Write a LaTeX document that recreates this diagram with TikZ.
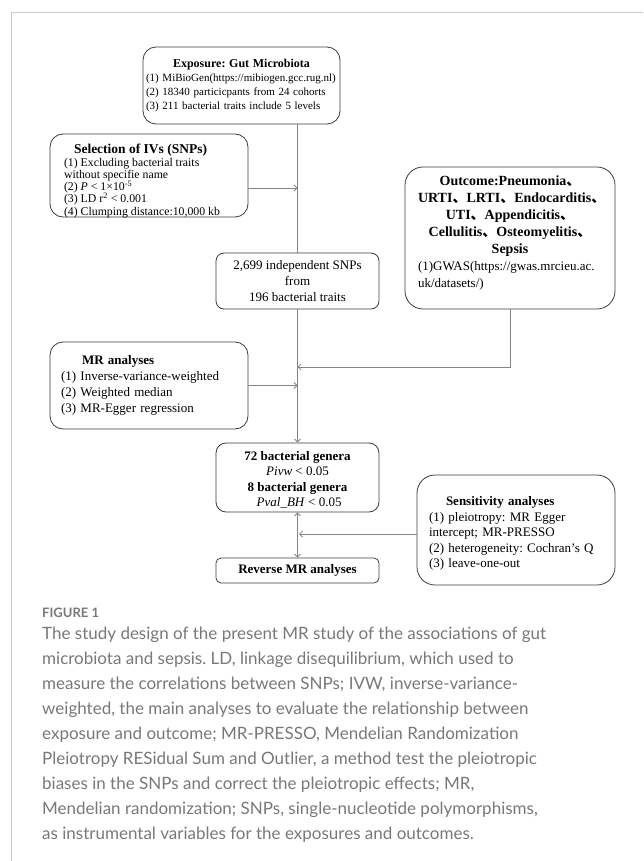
\documentclass[tikz,border=0pt]{standalone}
\usepackage{fontspec}
\setmainfont{Liberation Serif}
\newfontfamily\cjk{Noto Sans CJK SC}
\newfontfamily\capfont{Lato}
\usetikzlibrary{arrows.meta,positioning}
\definecolor{boxgray}{HTML}{3C3C3C}
\definecolor{linegray}{HTML}{858585}
\definecolor{framegray}{HTML}{CBCBCB}
\definecolor{capgray}{HTML}{787878}
\tikzset{->,>={Straight Barb[length=3pt,width=6pt]}}
\tikzset{box/.style={draw=boxgray, line width=0.8pt, rounded corners=13pt,
    inner ysep=0pt, align=left}}
\tikzset{flow/.style={draw=linegray, line width=0.8pt}}
\newcommand{\cjkcomma}{{\cjk 、}}
\newcommand{\supsm}[1]{\smash{\textsuperscript{#1}}}
\frenchspacing

\begin{document}
\begin{tikzpicture}[x=1pt, y=-1pt]
  \useasboundingbox (0,0) rectangle (643,861);
    %%%% Frame
    \draw[-, framegray, line width=1pt] (11,861) -- (11,13) -- (643,13);

    %%%% Boxes
    \node[box, minimum width=197pt, minimum height=77pt, inner xsep=3pt, text width=191pt,
      font=\fontsize{11}{14}\selectfont] (expo) at (241.5,85.5)
      {{\centering\fontsize{12}{14.5}\selectfont\bfseries Exposure: Gut Microbiota\par}
       (1)~MiBioGen(https://mibiogen.gcc.rug.nl)\\
       (2) 18340 particicpants from 24 cohorts\\
       (3) 211 bacterial traits include 5 levels};
    \node[box, minimum width=198pt, minimum height=83pt, inner xsep=14pt,
      font=\fontsize{11.8}{12}\selectfont] (sel) at (149,175.5)
      {\parbox[c][83pt][t]{170pt}{\raggedright\vspace*{8pt}%
       \rule{0pt}{12pt}\hspace*{10pt}{\fontsize{13.5}{15}\selectfont\bfseries Selection of IVs (SNPs)}\\[1pt]
       (1) Excluding bacterial traits\\
       without specifie name\\
       (2) \textit{P} < 1×10\supsm{-5}\\
       (3) LD r\supsm{2} < 0.001\\
       (4) Clumping distance:10,000 kb}};
    \node[box, rounded corners=8pt, minimum width=163pt, minimum height=56pt, align=center,
      font=\fontsize{13}{16}\selectfont] (snp) at (297.5,281)
      {2,699 independent SNPs\\ from\\ 196 bacterial traits};
    \node[box, rounded corners=18pt, minimum width=210pt, minimum height=142pt, inner xsep=13pt,
      text width=184pt, font=\fontsize{13}{17}\selectfont] (out) at (510,238)
      {{\centering\fontsize{14}{17}\selectfont\bfseries Outcome:Pneumonia\cjkcomma\\
        URTI\cjkcomma LRTI\cjkcomma Endocarditis\cjkcomma\\
        UTI\cjkcomma Appendicitis\cjkcomma\\
        Cellulitis\cjkcomma Osteomyelitis\cjkcomma\\
        Sepsis\par}
       (1)GWAS(https://gwas.mrcieu.ac.\\
       uk/datasets/)\rule[-13pt]{0pt}{13pt}};
    \node[box, minimum width=198pt, minimum height=87pt, inner xsep=11pt, text width=176pt,
      font=\fontsize{13}{16}\selectfont] (mr) at (149,385.5)
      {\hspace*{21pt}\textbf{MR analyses}\\
       (1) Inverse-variance-weighted\\
       (2) Weighted median\\
       (3) MR-Egger regression};
    \node[box, rounded corners=10pt, minimum width=163pt, minimum height=69pt, align=center,
      font=\fontsize{13}{15.5}\selectfont] (gen) at (297.5,477.5)
      {\rule{0pt}{14pt}\textbf{72 bacterial genera}\\ \textit{Pivw} < 0.05\\
       \textbf{8 bacterial genera}\\ \ \textit{Pval\_BH} < 0.05};
    \node[box, rounded corners=5pt, minimum width=163pt, minimum height=25pt, align=center,
      font=\fontsize{13}{16}\selectfont] (rev) at (297.5,570.5)
      {\textbf{Reverse MR analyses}};
    \node[box, rounded corners=18pt, minimum width=198pt, minimum height=110pt, inner xsep=12pt,
      text width=174pt, font=\fontsize{13}{15.5}\selectfont] (sens) at (516,530)
      {\rule{0pt}{16.6pt}\hspace*{17pt}\textbf{Sensitivity analyses}\\
       (1) pleiotropy: MR Egger\\
       intercept; MR-PRESSO\\
       (2) heterogeneity: Cochran’s Q\\
       (3) leave-one-out};

    %%%% Junctions on the main line
    \coordinate (j1) at (297.5,188);
    \coordinate (j2) at (297.5,367);
    \coordinate (j3) at (299,534);

    %%%% Connectors
    \draw [-][flow] (expo.south -| snp.north) to (snp.north);
    \draw [->][flow] (sel.east |- j1) to (j1);
    \draw [->][flow] (snp.south) to (gen.north);
    \draw [->][flow] (out.south) |- (j2);
    \draw [->][flow] (mr.east) to (mr.east -| snp.south);
    \draw [<->][flow] (gen.south) to (rev.north);
    \draw [->][flow] (sens.west |- j3) to (j3);

    %%%% Caption
    \node[anchor=west, inner sep=0pt, text=capgray, font=\capfont\bfseries\fontsize{13}{15}\selectfont]
      (fig) at (42,613) {FIGURE 1};
    \node[anchor=north west, inner sep=0pt, text=capgray, align=left,
      font=\capfont\fontsize{17}{25}\selectfont] (cap) at (42,627)
      {The study design of the present MR study of the associations of gut\\
       microbiota and sepsis. LD, linkage disequilibrium, which used to\\
       measure the correlations between SNPs; IVW, inverse-variance-\\
       weighted, the main analyses to evaluate the relationship between\\
       exposure and outcome; MR-PRESSO, Mendelian Randomization\\
       Pleiotropy RESidual Sum and Outlier, a method test the pleiotropic\\
       biases in the SNPs and correct the pleiotropic effects; MR,\\
       Mendelian randomization; SNPs, single-nucleotide polymorphisms,\\
       as instrumental variables for the exposures and outcomes.};
\end{tikzpicture}
\end{document}
